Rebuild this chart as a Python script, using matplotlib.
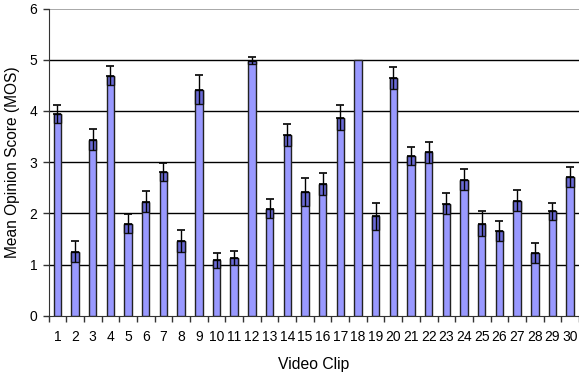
import numpy as np
import matplotlib.pyplot as plt

plt.rcParams['font.family'] = ['Liberation Sans', 'DejaVu Sans']

clips = list(range(1, 31))
mos = [3.94, 1.25, 3.44, 4.69, 1.80, 2.23, 2.81, 1.46, 4.42, 1.08,
       1.13, 4.98, 2.09, 3.53, 2.42, 2.57, 3.87, 5.00, 1.94, 4.64,
       3.12, 3.19, 2.19, 2.66, 1.80, 1.65, 2.25, 1.22, 2.04, 2.71]
err = [0.17, 0.20, 0.21, 0.19, 0.18, 0.20, 0.17, 0.22, 0.29, 0.15,
       0.14, 0.07, 0.19, 0.22, 0.28, 0.22, 0.24, 0.00, 0.27, 0.21,
       0.18, 0.20, 0.21, 0.20, 0.24, 0.20, 0.20, 0.20, 0.17, 0.20]

x = np.arange(len(clips))
mos_a = np.array(mos)
err_a = np.array(err)
has_err = err_a > 0

fig = plt.figure(figsize=(5.79, 3.76), dpi=100)
ax = fig.add_axes([0.0838, 0.1604, 0.9162, 0.8166])

w = 0.42
ax.bar(x, mos_a, width=w, color='#9999ff', edgecolor='#222222', linewidth=1.0, zorder=3)
# darker band over the lower half of each error bar
ax.bar(x[has_err], err_a[has_err], bottom=(mos_a - err_a)[has_err], width=w,
       color='#6a6ad6', edgecolor='#111111', linewidth=1.0, zorder=4)
ax.errorbar(x[has_err], mos_a[has_err],
            yerr=[np.zeros(has_err.sum()), err_a[has_err]], fmt='none',
            ecolor='black', elinewidth=1.0, capsize=2.6, capthick=1.2, zorder=5)
ax.vlines(x[has_err], (mos_a - err_a)[has_err], mos_a[has_err],
          color='black', linewidth=1.0, zorder=5)

ax.set_xlim(-0.5, len(clips) - 0.5)
ax.set_ylim(0, 6)
ax.set_yticks(range(0, 7))
ax.set_xticks(x)
ax.set_xticklabels([str(c) for c in clips])
ax.set_xticks(np.arange(-0.5, len(clips)), minor=True)
ax.tick_params(axis='x', which='major', length=0, labelsize=10, pad=10)
ax.tick_params(axis='x', which='minor', length=4, width=1, color='#333333', direction='out')
ax.tick_params(axis='y', length=4, width=1, color='#333333', labelsize=10, pad=4)

for v in range(1, 6):
    ax.axhline(v, color='black', linewidth=1.0, zorder=1)
ax.axhline(6, color='#9a9a9a', linewidth=1.2, zorder=1)

for s in ['top', 'right']:
    ax.spines[s].set_visible(False)
ax.spines['left'].set_color('#333333')
ax.spines['bottom'].set_color('#333333')

ax.set_xlabel('Video Clip', fontsize=11.3, labelpad=10)
ax.set_ylabel('Mean Opinion Score (MOS)', fontsize=11.2, labelpad=7)

fig.savefig('out.png', dpi=100)
